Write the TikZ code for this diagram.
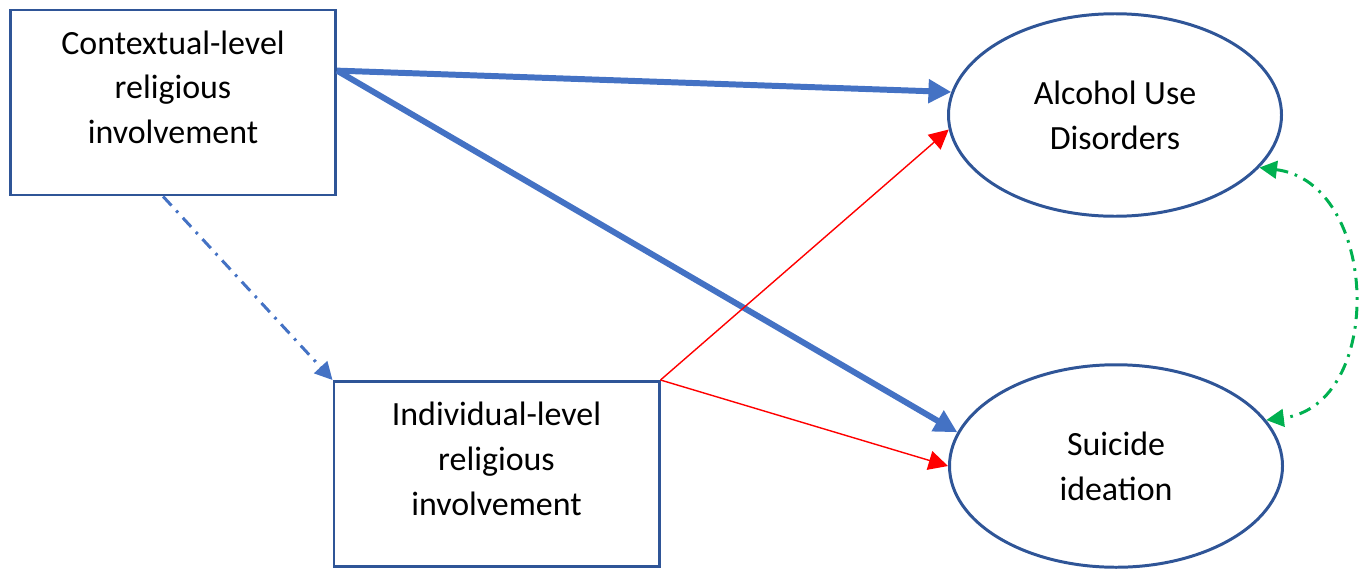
\documentclass[tikz,border=0pt]{standalone}
\usepackage{fontspec}
\setmainfont{Carlito}
\usetikzlibrary{arrows.meta}
\definecolor{boxblue}{HTML}{2F5597}
\definecolor{pathblue}{HTML}{4472C4}
\definecolor{corgreen}{HTML}{00B050}
\tikzset{
	level/.style = {draw=boxblue, line width=1.7pt, align=center, font=\fontsize{19.3}{25.5}\selectfont},
	levelbox/.style = {level, rectangle, minimum width=6.5cm, minimum height=3.7cm},
	outcome/.style = {level, ellipse, minimum width=6.66cm, minimum height=4.05cm},
	strong/.style = {pathblue, line width=3.4pt, -{Triangle[length=13pt, width=13pt]}},
	weak/.style = {red, line width=0.8pt, -{Triangle[length=11pt, width=11pt]}},
	indirect/.style = {pathblue, line width=1.7pt, dash pattern=on 7pt off 4pt on 1.5pt off 4pt, -{Triangle[length=10pt, width=10pt]}},
	corr/.style = {corgreen, line width=1.7pt, dash pattern=on 7pt off 4pt on 1.5pt off 4pt, {Triangle[length=10pt, width=10pt]}-{Triangle[length=10pt, width=10pt]}}
}
\usetikzlibrary{shapes.geometric}
\begin{document}
\begin{tikzpicture}
		\useasboundingbox (0,0) rectangle (27.2,-11.66);
		% predictors
		\node [levelbox] (ctx) at (3.46,-2.05) {Contextual-level\\religious\\involvement\\[-8pt]};
		\node [levelbox] (ind) at (9.93,-9.48) {Individual-level\\religious\\involvement\\[-8pt]};
		% outcomes
		\node [outcome] (alc) at (22.3,-2.3) {Alcohol Use\\Disorders};
		\node [outcome] (sui) at (22.32,-9.32) {Suicide\\ideation};
		% paths
		\draw [strong] (ctx.11) -- (alc.172);
		\draw [strong] (ctx.11) -- (sui.168);
		\draw [indirect] (ctx.-96) -- (ind.north west);
		\draw [weak] (ind.north east) -- (alc.185);
		\draw [weak] (ind.north east) -- (sui.180);
		\draw [corr] (alc.-20) .. controls +(2.4,-0.3) and +(2.4,0.3) .. (sui.17);
\end{tikzpicture}
\end{document}
